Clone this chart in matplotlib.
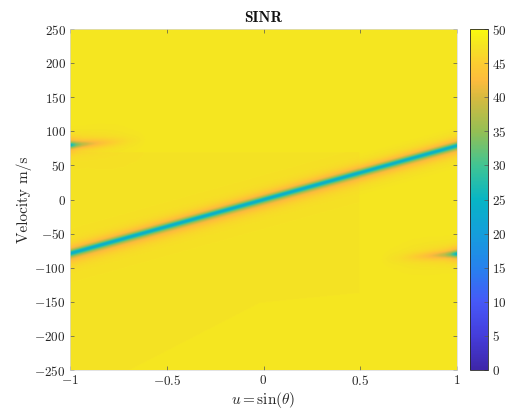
import numpy as np
import matplotlib
matplotlib.use("Agg")
import matplotlib.pyplot as plt
from matplotlib.colors import LinearSegmentedColormap

plt.rcParams['mathtext.fontset'] = 'cm'
plt.rcParams['font.family'] = ['cmr10', 'DejaVu Serif']

# ---------------- data ----------------
title = "SINR"
xlabel = r"$u = \sin(\theta)$"
ylabel = "Velocity m/s"
x_ticks = [-1, -0.5, 0, 0.5, 1]
x_tick_labels = [r"$-1$", r"$-0.5$", r"$0$", r"$0.5$", r"$1$"]
y_ticks = [-250, -200, -150, -100, -50, 0, 50, 100, 150, 200, 250]
y_tick_labels = [r"$%d$" % t if t >= 0 else r"$-%d$" % (-t) for t in y_ticks]
cbar_ticks = [0, 5, 10, 15, 20, 25, 30, 35, 40, 45, 50]
cbar_labels = [r"$%d$" % t for t in cbar_ticks]

u_axis = np.linspace(-1, 1, 401)
v_axis = np.linspace(-250, 250, 501)

ridge_v_at_u1 = 79.0          # clutter ridge velocity at u = +1 (m/s)
alias_v = [80.0, -80.0]       # aliased ridge velocity at u=-1 and u=+1
alias_drift = 20.0            # alias centre drifts away from 0 (m/s per unit u)
bg_level_high = 47.8          # background SINR (dB)
bg_level_low = 47.3           # slightly darker background patch

# notch profile: distance from ridge (m/s) -> SINR loss (dB)
notch_offset = [0, 1.3, 2.6, 3.9, 5.2, 6.5, 8, 10.5, 13, 17, 22, 28, 40]
notch_loss = [24.5, 22.0, 17.5, 12.5, 9.0, 6.5, 4.8, 3.2, 2.0, 1.0, 0.4, 0.1, 0.0]
below_widen = 1.2             # ridge notch broader below the line

# alias strength vs distance from edge in u
alias_du = [0, 0.03, 0.06, 0.1, 0.15, 0.2, 0.25, 0.3, 0.4]
alias_frac = [1.0, 0.62, 0.42, 0.3, 0.2, 0.13, 0.08, 0.04, 0.0]

# darker background patch boundary (lower edge)
patch_bu = [-1.0, -0.69, -0.02, 0.5]
patch_bv = [-255, -250, -152, -137]
patch_top_v = 70.0
patch_right_u = 0.5

# parula-like colormap anchors (value fraction, rgb)
cmap_pos = [0.0, 0.1, 0.2, 0.3, 0.4, 0.5, 0.6, 0.7, 0.8, 0.85, 0.9, 0.95, 1.0]
cmap_rgb = [(0.2422, 0.1504, 0.6603), (0.2700, 0.2400, 0.8600), (0.2750, 0.3500, 0.9700),
            (0.1500, 0.5100, 0.9300), (0.0800, 0.6200, 0.8600), (0.0300, 0.7100, 0.7700),
            (0.2500, 0.7700, 0.5800), (0.5800, 0.7500, 0.3300), (0.8400, 0.7300, 0.2500),
            (0.9900, 0.7350, 0.2400), (0.9900, 0.8000, 0.1900), (0.9600, 0.8900, 0.1400),
            (0.9763, 0.9831, 0.0538)]
cmap = LinearSegmentedColormap.from_list("parula", list(zip(cmap_pos, cmap_rgb)), N=256)

# ---------------- build the SINR map ----------------
U, V = np.meshgrid(u_axis, v_axis)

bg = np.full(U.shape, bg_level_high)
lower_edge = np.interp(U, patch_bu, patch_bv)
patch = (U < patch_right_u) & (V < patch_top_v) & (V > lower_edge)
bg[patch] = bg_level_low

d = V - ridge_v_at_u1 * U
dist = np.where(d < 0, -d / below_widen, d)
loss = np.interp(dist, notch_offset, notch_loss)

for v0, du, sgn in ((alias_v[0], U + 1.0, 1.0), (alias_v[1], 1.0 - U, -1.0)):
    f = np.interp(du, alias_du, alias_frac)
    centre = v0 + sgn * alias_drift * du
    da = np.abs(V - centre) / (1.0 + 3.0 * du)
    la = f * np.interp(da, notch_offset, notch_loss)
    loss = np.maximum(loss, la)

Z = bg - loss

# ---------------- plot ----------------
fig = plt.figure(figsize=(5.08, 4.12), dpi=100)
ax = fig.add_axes([70/508, 1 - 370/412, 387/508, 341/412])
im = ax.imshow(Z, origin='lower', extent=[-1, 1, -250, 250], aspect='auto',
               cmap=cmap, vmin=0, vmax=50, interpolation='bilinear')
ax.set_xlim(-1, 1)
ax.set_ylim(-250, 250)
ax.set_xticks(x_ticks)
ax.set_xticklabels(x_tick_labels)
ax.set_yticks(y_ticks)
ax.set_yticklabels(y_tick_labels)
ax.tick_params(direction='in', length=3, width=0.5, color='#555555',
               labelsize=9.5, labelcolor='#262626', pad=3, top=True, right=True)
for s in ax.spines.values():
    s.set_linewidth(0.5)
    s.set_color('#d8d8d8')
ax.set_title(title, fontfamily='cmb10', fontsize=11, pad=5, color='#111111')
ax.set_xlabel(xlabel, fontsize=11, labelpad=1, color='#262626')
ax.set_ylabel(ylabel, fontsize=11, labelpad=2, color='#262626')

cax = fig.add_axes([470/508, 1 - 370/412, 18/508, 341/412])
cb = fig.colorbar(im, cax=cax)
cb.set_ticks(cbar_ticks)
cb.set_ticklabels(cbar_labels)
cax.tick_params(direction='in', length=3, width=0.5, color='#555555',
                labelsize=9.5, labelcolor='#262626', pad=3)
cb.outline.set_linewidth(0.6)
cb.outline.set_edgecolor('#262626')

fig.savefig("out.png", dpi=100)
